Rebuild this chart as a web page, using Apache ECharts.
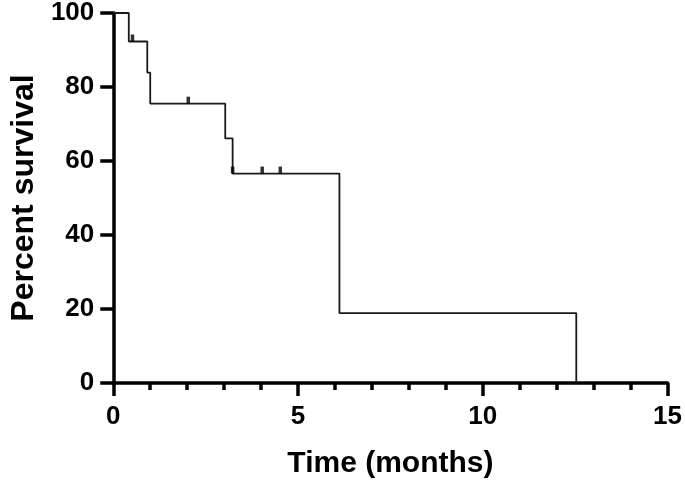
<!DOCTYPE html>
<html lang="en">
<head>
    <meta charset="UTF-8">
    <title>Percent survival</title>
    <style>
        html, body { margin: 0; padding: 0; background: #fff; }
    </style>
</head>
<body>
    <div id="chart" style="width: 685px;height:484px;"></div>
    <script src="https://cdn.jsdelivr.net/npm/echarts@6/dist/echarts.min.js"></script>
    <script>
        // Kaplan-Meier steps (time in months, percent surviving after the event)
        var stepTimes = [0, 0.42, 0.92, 1.0, 3.03, 3.23, 6.12, 12.53];
        var stepSurvival = [100, 92.3, 83.9, 75.5, 66.1, 56.6, 18.9, 0];
        // censored subjects
        var censorTimes = [0.52, 2.03, 3.23, 4.03, 4.52];
        var censorSurvival = [92.3, 75.5, 56.6, 56.6, 56.6];

        var xTicks = [0, 5, 10, 15];
        var yTicks = [0, 20, 40, 60, 80, 100];

        var stepData = stepTimes.map(function (t, i) { return [t, stepSurvival[i]]; });
        var censorData = censorTimes.map(function (t, i) { return [t, censorSurvival[i]]; });

        var myChart = echarts.init(document.getElementById('chart'));
        var font = 'Liberation Sans, Arial, sans-serif';

        var option = {
            backgroundColor: '#fff',
            animation: false,
            grid: {
                left: 110,
                right: 17,
                top: 13,
                bottom: 100
            },
            xAxis: {
                type: 'value',
                min: xTicks[0],
                max: xTicks[xTicks.length - 1],
                interval: 5,
                name: 'Time (months)',
                nameLocation: 'middle',
                nameGap: 66,
                nameTextStyle: { color: '#000', fontSize: 30, fontWeight: 'bold', fontFamily: font },
                axisLine: { show: true, onZero: false, lineStyle: { color: '#000', width: 3.5 } },
                axisTick: { show: true, length: 13, lineStyle: { color: '#000', width: 3.5 } },
                minorTick: { show: true, splitNumber: 5, length: 7, lineStyle: { color: '#000', width: 3.5 } },
                axisLabel: { color: '#000', fontSize: 26, fontWeight: 'bold', fontFamily: font, margin: 21 },
                splitLine: { show: false }
            },
            yAxis: {
                type: 'value',
                min: yTicks[0],
                max: yTicks[yTicks.length - 1],
                interval: 20,
                name: 'Percent survival',
                nameLocation: 'middle',
                nameGap: 73,
                nameTextStyle: { color: '#000', fontSize: 32, fontWeight: 'bold', fontFamily: font },
                axisLine: { show: true, lineStyle: { color: '#000', width: 3.5 } },
                axisTick: { show: true, length: 13, lineStyle: { color: '#000', width: 3.5 } },
                axisLabel: { color: '#000', fontSize: 26, fontWeight: 'bold', fontFamily: font, margin: 19 },
                splitLine: { show: false }
            },
            series: [
                {
                    type: 'line',
                    step: 'end',
                    data: stepData,
                    symbol: 'none',
                    lineStyle: { color: '#1a1a1a', width: 1.8 },
                    z: 3
                },
                {
                    type: 'scatter',
                    data: censorData,
                    symbol: 'rect',
                    symbolSize: [3.5, 7],
                    symbolOffset: [0, -3.5],
                    itemStyle: { color: '#000' },
                    z: 4
                }
            ]
        };

        myChart.setOption(option);
    </script>
</body>
</html>
